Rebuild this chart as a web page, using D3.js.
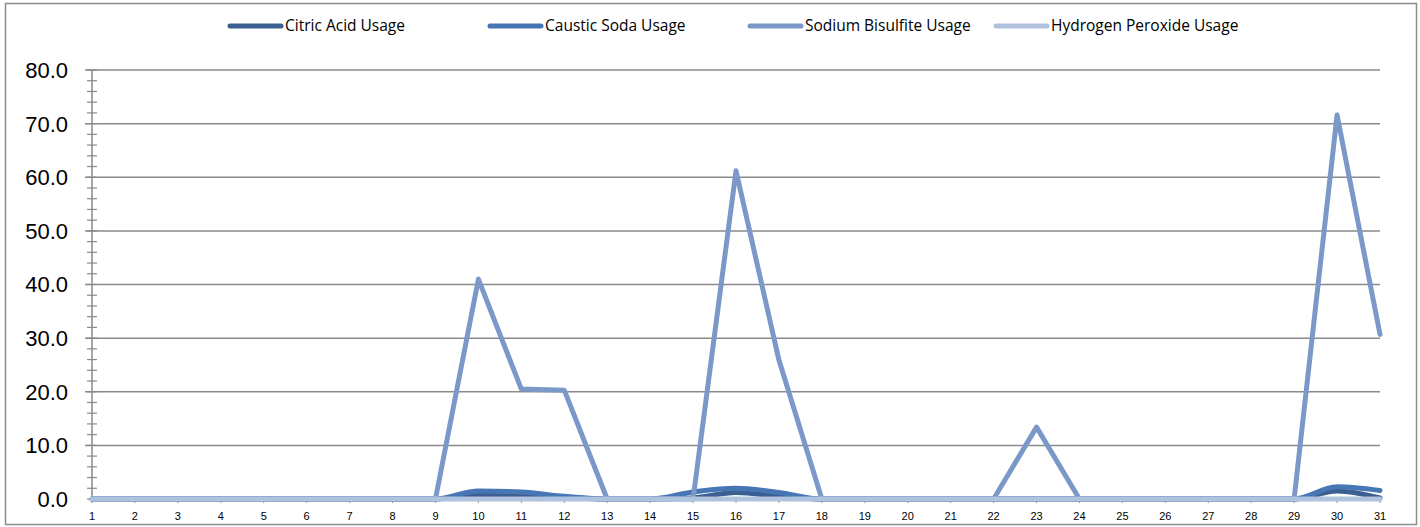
<!DOCTYPE html>
<html lang="en">
<head>
<meta charset="utf-8" />
<script src="https://d3js.org/d3.v7.min.js"></script>
<style>
  body { margin: 0; background: #fff; font-family: 'Liberation Sans', 'DejaVu Sans', sans-serif; }
  svg { display: block; }
</style>
</head>
<body>
<div id="chart"></div>
<script>
// data ----------------------------------------------------------
var days = d3.range(1, 32);
var citricAcid = [0,0,0,0,0,0,0,0,0,0.8,0.8,0.3,0,0,0.2,1.2,0.5,0,0,0,0,0,0,0,0,0,0,0,0,1.5,0.2];
var causticSoda = [0,0,0,0,0,0,0,0,0,1.5,1.3,0.5,0,0,1.3,2.0,1.2,0,0,0,0,0,0,0,0,0,0,0,0,2.3,1.6];
var sodiumBisulfite = [0,0,0,0,0,0,0,0,0,41,20.5,20.3,0,0,0,61.2,25.9,0,0,0,0,0,13.4,0,0,0,0,0,0,71.6,30.7];
var hydrogenPeroxide = [0,0,0,0,0,0,0,0,0,0,0,0,0,0,0,0,0,0,0,0,0,0,0,0,0,0,0,0,0,0,0];
var yTicks = [0, 10, 20, 30, 40, 50, 60, 70, 80];

var series = [
  { name: 'Citric Acid Usage', values: citricAcid, color: '#3b5f91', smooth: true },
  { name: 'Caustic Soda Usage', values: causticSoda, color: '#4676b3', smooth: true },
  { name: 'Sodium Bisulfite Usage', values: sodiumBisulfite, color: '#7b99c8', smooth: false },
  { name: 'Hydrogen Peroxide Usage', values: hydrogenPeroxide, color: '#afc2de', smooth: false }
];

// layout --------------------------------------------------------
var W = 1420, H = 527;
var plotLeft = 92, plotRight = 1380, plotTop = 70, plotBottom = 499;

var svg = d3.select('#chart').append('svg').attr('width', W).attr('height', H);

// outer border
svg.append('rect')
  .attr('x', 5.5).attr('y', 3.5).attr('width', W - 9).attr('height', H - 6)
  .attr('fill', 'none').attr('stroke', '#8c8c8c').attr('stroke-width', 1.5);

var x = d3.scaleLinear().domain([1, 31]).range([plotLeft, plotRight]);
var y = d3.scaleLinear().domain([0, 80]).range([plotBottom, plotTop]);

// gridlines
svg.append('g')
  .selectAll('line')
  .data(yTicks.filter(function (d) { return d > 0; }))
  .join('line')
  .attr('x1', plotLeft - 7).attr('x2', plotRight)
  .attr('y1', function (d) { return y(d); }).attr('y2', function (d) { return y(d); })
  .attr('stroke', '#8a8a8a').attr('stroke-width', 1.5);

// y axis line and minor ticks
svg.append('line')
  .attr('x1', plotLeft).attr('x2', plotLeft)
  .attr('y1', plotTop).attr('y2', plotBottom)
  .attr('stroke', '#8a8a8a').attr('stroke-width', 1.5);

svg.append('g')
  .selectAll('line')
  .data(d3.range(0, 81, 2))
  .join('line')
  .attr('x1', plotLeft - 5).attr('x2', plotLeft + 5)
  .attr('y1', function (d) { return y(d); }).attr('y2', function (d) { return y(d); })
  .attr('stroke', '#8a8a8a').attr('stroke-width', 1.2);

// y labels
svg.append('g')
  .selectAll('text')
  .data(yTicks)
  .join('text')
  .attr('x', 68).attr('y', function (d) { return y(d); })
  .attr('dy', '0.36em')
  .attr('text-anchor', 'end')
  .attr('font-size', 22)
  .attr('fill', '#000')
  .text(function (d) { return d3.format('.1f')(d); });

// x axis ticks and labels
svg.append('g')
  .selectAll('line')
  .data(days)
  .join('line')
  .attr('x1', function (d) { return x(d); }).attr('x2', function (d) { return x(d); })
  .attr('y1', plotBottom).attr('y2', plotBottom + 4)
  .attr('stroke', '#8a8a8a').attr('stroke-width', 1);

svg.append('g')
  .selectAll('text')
  .data(days)
  .join('text')
  .attr('x', function (d) { return x(d); })
  .attr('y', 520)
  .attr('text-anchor', 'middle')
  .attr('font-size', 11)
  .attr('fill', '#000')
  .text(function (d) { return d; });

// lines
series.forEach(function (s) {
  var line = d3.line()
    .x(function (d, i) { return x(days[i]); })
    .y(function (d) { return y(d); })
    .curve(s.smooth ? d3.curveMonotoneX : d3.curveLinear);
  svg.append('path')
    .datum(s.values)
    .attr('d', line)
    .attr('fill', 'none')
    .attr('stroke', s.color)
    .attr('stroke-width', 5)
    .attr('stroke-linejoin', 'round')
    .attr('stroke-linecap', 'round');
});

// legend
var legendX = [230, 490, 750, 996];
var legend = svg.append('g')
  .selectAll('g')
  .data(series)
  .join('g')
  .attr('transform', function (d, i) { return 'translate(' + legendX[i] + ',26)'; });

legend.append('line')
  .attr('x1', 0).attr('x2', 51)
  .attr('stroke', function (d) { return d.color; })
  .attr('stroke-width', 5)
  .attr('stroke-linecap', 'round');

legend.append('text')
  .attr('x', 55).attr('dy', '0.35em')
  .attr('font-family', "'Open Sans', 'Liberation Sans', sans-serif")
  .attr('font-size', 15.5)
  .attr('fill', '#000')
  .text(function (d) { return d.name; });
</script>
</body>
</html>
